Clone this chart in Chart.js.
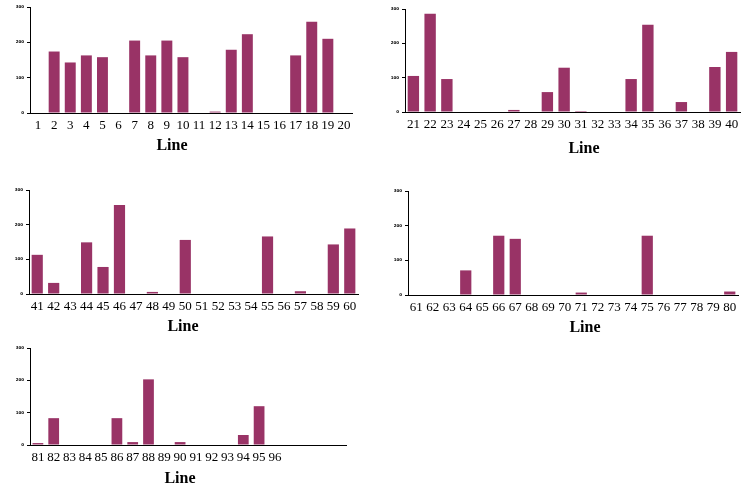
<!DOCTYPE html>
<html>
<head>
<meta charset="utf-8">
<script src="https://cdn.jsdelivr.net/npm/chart.js@4/dist/chart.umd.min.js"></script>
<style>
  body { margin: 0; background: #fff; width: 743px; height: 486px; position: relative; overflow: hidden; }
  .panel { position: absolute; }
  .xtitle { position: absolute; font: bold 16px "Liberation Serif", serif; color: #000; transform: translate(-50%, -50%); }
</style>
</head>
<body>
<div class="panel" style="left:0;top:0;width:360px;height:160px"><canvas id="c1"></canvas></div>
<div class="panel" style="left:370px;top:0;width:373px;height:160px"><canvas id="c2"></canvas></div>
<div class="panel" style="left:0;top:180px;width:360px;height:160px"><canvas id="c3"></canvas></div>
<div class="panel" style="left:370px;top:180px;width:373px;height:160px"><canvas id="c4"></canvas></div>
<div class="panel" style="left:0;top:335px;width:360px;height:151px"><canvas id="c5"></canvas></div>
<div class="xtitle" style="left:172px;top:145px">Line</div>
<div class="xtitle" style="left:584px;top:148px">Line</div>
<div class="xtitle" style="left:183px;top:326px">Line</div>
<div class="xtitle" style="left:585px;top:327px">Line</div>
<div class="xtitle" style="left:180px;top:478px">Line</div>
<script>
const lines1 = ["1","2","3","4","5","6","7","8","9","10","11","12","13","14","15","16","17","18","19","20"];
const values1 = [0,174,143,163,158,0,205,163,205,158,0,4,179,223,0,0,163,258,210,0];

const lines2 = ["21","22","23","24","25","26","27","28","29","30","31","32","33","34","35","36","37","38","39","40"];
const values2 = [105,286,96,0,0,0,6,0,58,129,3,0,0,96,254,0,29,0,131,175];

const lines3 = ["41","42","43","44","45","46","47","48","49","50","51","52","53","54","55","56","57","58","59","60"];
const values3 = [113,32,0,149,78,257,0,6,0,156,0,0,0,0,166,0,8,0,143,189];

const lines4 = ["61","62","63","64","65","66","67","68","69","70","71","72","73","74","75","76","77","78","79","80"];
const values4 = [0,0,0,71,0,171,162,0,0,0,7,0,0,0,171,0,0,0,0,10];

const lines5 = ["81","82","83","84","85","86","87","88","89","90","91","92","93","94","95","96","","","",""];
const values5 = [6,83,0,0,0,83,9,203,0,9,0,0,0,31,120,0,0,0,0,0];

const yTicks = [0, 100, 200, 300];

const barColor = "#993366";
const serif = "'Liberation Serif', 'Times New Roman', serif";

// box: chart area inside the panel [left, top, right, bottom]
const buildPanel = (id, labels, data, box, w, h) => {
  const ctx = document.getElementById(id);
  const [left, top, right, bottom] = box;
  return new Chart(ctx, {
    type: "bar",
    data: {
      labels: labels,
      datasets: [
        {
          data: data,
          backgroundColor: barColor,
          borderWidth: 0,
          barPercentage: 0.68,
          categoryPercentage: 1,
        },
      ],
    },
    options: {
      responsive: true,
      maintainAspectRatio: false,
      animation: false,
      events: [],
      layout: { padding: { left: 0, top: top, right: w - right, bottom: 0 } },
      plugins: { legend: { display: false }, tooltip: { enabled: false } },
      scales: {
        x: {
          afterFit: (s) => { s.height = h - bottom; },
          grid: { display: true, drawOnChartArea: false, tickLength: 3, color: "rgba(0,0,0,0)" },
          border: { display: true, color: "#000", width: 1 },
          ticks: {
            color: "#000",
            font: { family: serif, size: 13 },
            autoSkip: false,
            maxRotation: 0,
            padding: 2,
          },
        },
        y: {
          min: 0,
          max: 300,
          afterFit: (s) => { s.width = left; },
          afterBuildTicks: (s) => { s.ticks = yTicks.map((v) => ({ value: v })); },
          grid: { display: true, drawOnChartArea: false, tickLength: 3, color: "#000" },
          border: { display: true, color: "#000", width: 1 },
          ticks: {
            color: "#000",
            font: { family: "'DejaVu Sans', sans-serif", size: 4, weight: "bold" },
            padding: 3,
          },
        },
      },
    },
  });
};

buildPanel("c1", lines1, values1, [30, 7, 352, 113], 360, 160);
buildPanel("c2", lines2, values2, [35, 9, 370, 112], 373, 160);
buildPanel("c3", lines3, values3, [29, 10, 358, 114], 360, 160);
buildPanel("c4", lines4, values4, [38, 11, 368, 115], 373, 160);
buildPanel("c5", lines5, values5, [30, 13, 346, 110], 360, 151);
</script>
</body>
</html>
